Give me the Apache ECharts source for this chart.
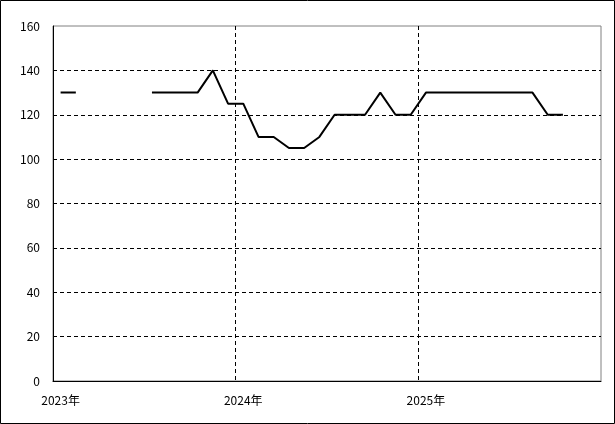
<!DOCTYPE html>
<html>
<head>
<meta charset="utf-8">
<script src="https://cdn.jsdelivr.net/npm/echarts@6/dist/echarts.min.js"></script>
<style>
  html, body { margin: 0; padding: 0; background: #fff; }
  #chart { width: 615px; height: 424px; }
</style>
</head>
<body>
<div id="chart"></div>
<script>
// monthly categories, Jan 2023 .. Dec 2025
const years = [2023, 2024, 2025]
const months = []
years.forEach(y => {
  for (let m = 1; m <= 12; m++) months.push(y + '/' + m)
})

const values = [
  130, 130, null, null, null, null, 130, 130, 130, 130, 140, 125,
  125, 110, 110, 105, 105, 110, 120, 120, 120, 130, 120, 120,
  130, 130, 130, 130, 130, 130, 130, 130, 120, 120, null, null
]

const yTicks = [0, 20, 40, 60, 80, 100, 120, 140, 160]

const chart = echarts.init(document.getElementById('chart'))

const font = '"Noto Sans CJK JP", "DejaVu Sans", sans-serif'

const option = {
  backgroundColor: '#fff',
  animation: false,
  graphic: [{
    type: 'rect',
    shape: { x: 0.5, y: 0.5, width: 614, height: 423 },
    style: { fill: 'none', stroke: '#000', lineWidth: 1 },
    silent: true
  }],
  grid: {
    left: 53,
    right: 14,
    top: 26,
    bottom: 43,
    show: true,
    borderColor: '#808080',
    borderWidth: 1
  },
  xAxis: {
    type: 'category',
    data: months,
    boundaryGap: true,
    axisLine: { lineStyle: { color: '#000', width: 1 } },
    axisTick: { show: false },
    axisLabel: {
      interval: 11,
      margin: 13,
      color: '#000',
      fontSize: 12,
      fontFamily: font,
      formatter: v => v.split('/')[0] + '年'
    },
    splitLine: {
      show: true,
      interval: 11,
      lineStyle: {
        color: ['#000', '#000', '#000', 'rgba(0,0,0,0)'],
        type: [4, 3],
        width: 1
      }
    }
  },
  yAxis: {
    type: 'value',
    min: yTicks[0],
    max: yTicks[yTicks.length - 1],
    interval: 20,
    axisLine: { show: true, lineStyle: { color: '#000', width: 1 } },
    axisTick: { show: false },
    axisLabel: {
      margin: 13,
      color: '#000',
      fontSize: 12,
      fontFamily: font
    },
    splitLine: {
      show: true,
      lineStyle: {
        color: ['#000', '#000', '#000', '#000', '#000', '#000', '#000', '#000', 'rgba(0,0,0,0)'],
        type: [4, 3],
        width: 1
      }
    }
  },
  series: [{
    type: 'line',
    data: values,
    symbol: 'none',
    connectNulls: false,
    lineStyle: { color: '#000', width: 2 },
    itemStyle: { color: '#000' },
    z: 5
  }]
}

chart.setOption(option)
</script>
</body>
</html>
